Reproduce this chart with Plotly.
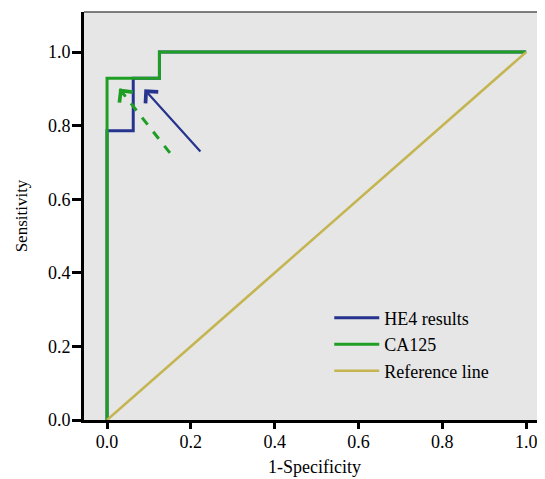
import plotly.graph_objects as go

# ROC data
he4_fpr = [0, 0, 0.0625, 0.0625, 0.125, 0.125, 1.0]
he4_tpr = [0, 0.786, 0.786, 0.929, 0.929, 1.0, 1.0]
ca125_fpr = [0, 0, 0.125, 0.125, 1.0]
ca125_tpr = [0, 0.929, 0.929, 1.0, 1.0]
ref_x = [0, 1]
ref_y = [0, 1]

# arrow annotations (tail -> head, data coordinates)
blue_arrow_tail = [0.226, 0.726]
blue_arrow_head = [0.089, 0.899]
green_arrow_tail = [0.150, 0.726]
green_arrow_head = [0.029, 0.901]

tick_vals = [0.0, 0.2, 0.4, 0.6, 0.8, 1.0]
tick_text = ["0.0", "0.2", "0.4", "0.6", "0.8", "1.0"]

BLUE = "#26348f"
GREEN = "#1f9e24"
OLIVE = "#c4b550"
FONT = "Liberation Serif"

fig = go.Figure()
fig.add_trace(go.Scatter(x=he4_fpr, y=he4_tpr, mode="lines", name="HE4 results",
                         line=dict(color=BLUE, width=3)))
fig.add_trace(go.Scatter(x=ca125_fpr, y=ca125_tpr, mode="lines", name="CA125",
                         line=dict(color=GREEN, width=3)))
fig.add_trace(go.Scatter(x=ref_x, y=ref_y, mode="lines", name="Reference line",
                         line=dict(color=OLIVE, width=2.5)))

# dashed green arrow shaft
fig.add_trace(go.Scatter(x=[green_arrow_tail[0], green_arrow_head[0]],
                         y=[green_arrow_tail[1], green_arrow_head[1]],
                         mode="lines", showlegend=False, hoverinfo="skip",
                         line=dict(color=GREEN, width=3, dash="dash")))

annotations = [
    dict(x=blue_arrow_head[0], y=blue_arrow_head[1], ax=blue_arrow_tail[0], ay=blue_arrow_tail[1],
         xref="x", yref="y", axref="x", ayref="y", text="", showarrow=True,
         arrowhead=4, arrowsize=1.5, arrowwidth=2.2, arrowcolor=BLUE),
    dict(x=green_arrow_head[0], y=green_arrow_head[1],
         ax=green_arrow_head[0] + 0.15 * (green_arrow_tail[0] - green_arrow_head[0]),
         ay=green_arrow_head[1] + 0.15 * (green_arrow_tail[1] - green_arrow_head[1]),
         xref="x", yref="y", axref="x", ayref="y", text="", showarrow=True,
         arrowhead=4, arrowsize=1.5, arrowwidth=2.2, arrowcolor=GREEN),
]

# page body has an 8px margin, so the figure is 8px smaller and margins shifted
fig.update_layout(
    width=537, height=471,
    margin=dict(l=76, r=0, t=4, b=59),
    paper_bgcolor="white", plot_bgcolor="#e6e6e6",
    font=dict(family=FONT, size=18, color="black"),
    showlegend=True,
    legend=dict(x=0.532, y=0.295, xanchor="left", yanchor="top", itemwidth=45,
                bgcolor="rgba(0,0,0,0)", font=dict(family=FONT, size=18)),
    annotations=annotations,
    shapes=[dict(type="line", xref="paper", yref="paper", x0=0, x1=1, y0=1, y1=1,
                 line=dict(color="#555555", width=1.5))],
)
fig.update_xaxes(range=[-0.055, 1.045], tickvals=tick_vals, ticktext=tick_text,
                 ticks="outside", ticklen=6, tickwidth=3, tickcolor="black",
                 ticklabelstandoff=-3,
                 showline=True, linewidth=3, linecolor="black",
                 showgrid=False, zeroline=False, automargin=False,
                 title=dict(text="1-Specificity", font=dict(family=FONT, size=18), standoff=10))
fig.update_yaxes(range=[0, 1.109], tickvals=tick_vals, ticktext=tick_text,
                 ticks="outside", ticklen=9, tickwidth=3, tickcolor="black",
                 ticklabelstandoff=-2,
                 showline=True, linewidth=3, linecolor="black",
                 showgrid=False, zeroline=False, automargin=False,
                 title=dict(text="Sensitivity", font=dict(family=FONT, size=17), standoff=16))

fig.write_html("out.html")
